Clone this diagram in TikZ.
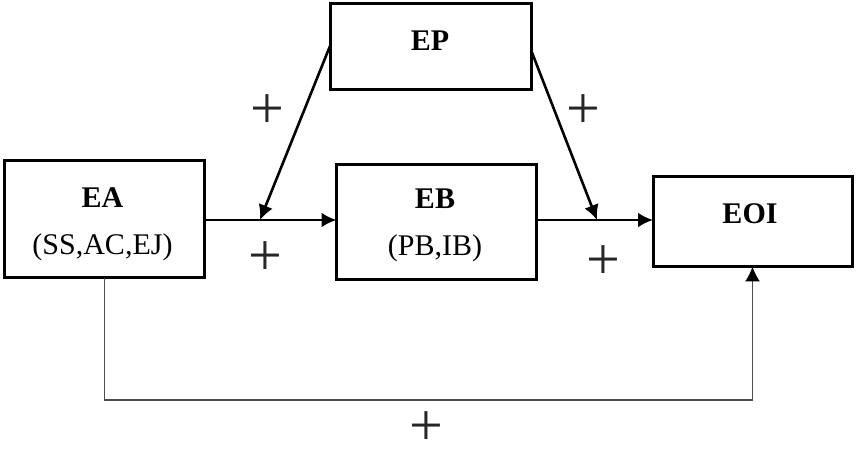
\documentclass[tikz,border=0pt]{standalone}
\usepackage{fontspec}
\setmainfont{Liberation Serif}
\usetikzlibrary{arrows.meta}
\begin{document}
\begin{tikzpicture}[x=1pt,y=-1pt,
  box/.style={draw=black,line width=3pt,inner sep=0pt,outer sep=0pt},
  lbl/.style={font=\fontsize{30}{36}\selectfont\bfseries,anchor=base,inner sep=0pt},
  sub/.style={font=\fontsize{30}{36}\selectfont,anchor=base,inner sep=0pt},
  pl/.style={font=\fontsize{60}{60}\selectfont,anchor=base,inner sep=0pt,text=black!85},
  arr/.style={line width=2.6pt,-{Latex[length=15pt,width=15pt]}},
  fb/.style={line width=1.6pt,draw=black!70,-{Latex[length=15pt,width=15pt,color=black]}}]
\useasboundingbox (0,0) rectangle (857,451);
\node[box,minimum width=200pt,minimum height=117pt] (EA) at (104.5,219) {};
\node[box,minimum width=200pt,minimum height=115pt] (EB) at (436.5,221.5) {};
\node[box,minimum width=201pt,minimum height=86pt] (EP) at (430.5,46) {};
\node[box,minimum width=199pt,minimum height=89.5pt] (EOI) at (752.5,221.7) {};
\node[lbl] (tEA) at (102.5,207) {EA};
\node[sub] (sEA) at (102.5,254) {(SS,AC,EJ)};
\node[lbl] (tEB) at (435,208) {EB};
\node[sub] (sEB) at (435,255) {(PB,IB)};
\node[lbl] (tEP) at (430,50) {EP};
\node[lbl] (tEOI) at (750,223) {EOI};
\coordinate (j1) at (260,220);
\coordinate (j2) at (597,220);
\coordinate (yb) at (0,400);
\draw[arr] (EA.east |- j1) -- (EB.west |- j1);
\draw[arr] (EB.east |- j2) -- (EOI.west |- j2);
\draw[arr] (EP.west) -- (j1);
\draw[arr] ([yshift=-4pt]EP.east) -- (j2);
\draw[fb] (EA.south) -- (EA.south |- yb) -| (EOI.south);
\node[pl] (p1) at (267,128) {+};
\node[pl] (p2) at (265,275) {+};
\node[pl] (p3) at (583,128) {+};
\node[pl] (p4) at (603,279) {+};
\node[pl] (p5) at (426,445) {+};
\end{tikzpicture}
\end{document}
